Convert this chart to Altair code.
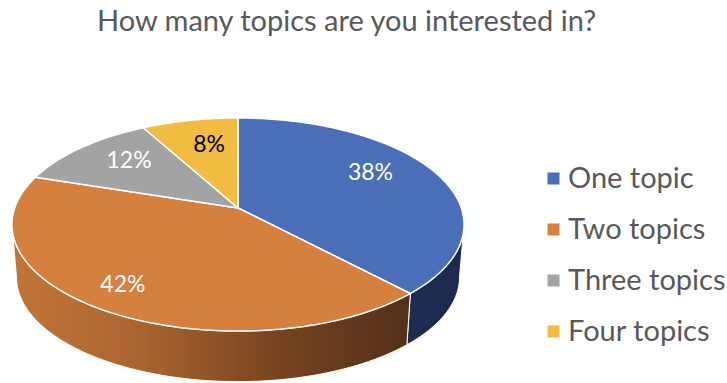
import math

import altair as alt
import pandas as pd

# Survey answers
categories = ["One topic", "Two topics", "Three topics", "Four topics"]
shares = [38, 42, 12, 8]
top_colors = ["#4A6FB8", "#D6803F", "#A3A3A3", "#F1BC3F"]
label_colors = ["white", "white", "white", "black"]
# Where each percentage sits inside its slice: fraction of radius, degrees off the mid-angle
label_radius = [0.72, 0.81, 0.715, 0.68]
label_turn = [-8.0, 2.4, 3.2, 2.3]
# Side wall shading, left to right, for the slices whose rim faces the viewer
wall_stops = {
    "One topic": ["#1E2B52", "#1D2A4E"],
    "Two topics": ["#C27538", "#A9642F", "#77431F", "#52301A"],
}

# Tilted disc: a unit circle seen in perspective, depth given in pixels
CX, CY = 238, 208
RX, RY, TILT = 223.3, 104, 0.155
WALL_DROP, WALL_SCALE = 53, 0.98
FONT = "Lato"


def project(angle, radius=1.0, scale=1.0, drop=0.0):
    u, v = radius * math.sin(angle), radius * math.cos(angle)
    w = 1 + TILT * v
    return [CX + scale * RX * u / w, CY + drop - scale * RY * v / w]


def arc(start, end, **kwargs):
    steps = max(2, int(abs(end - start) / math.radians(1)))
    return [project(start + (end - start) * i / steps, **kwargs) for i in range(steps + 1)]


def feature(name, ring):
    return {
        "type": "Feature",
        "properties": {"name": name},
        "geometry": {"type": "Polygon", "coordinates": [ring + [ring[0]]]},
    }


total = sum(shares)
edges = [0.0]
for share in shares:
    edges.append(edges[-1] + 2 * math.pi * share / total)

# Angles between which the rim faces the viewer
front_start = math.acos(-TILT)
front_end = 2 * math.pi - front_start

top_features, wall_layers, label_rows = [], [], []
for i, name in enumerate(categories):
    start, end = edges[i], edges[i + 1]
    top_features.append(feature(name, [[CX, CY]] + arc(start, end)))

    mid = (start + end) / 2 + math.radians(label_turn[i])
    lon, lat = project(mid, radius=label_radius[i])
    label_rows.append(
        {"lon": lon, "lat": lat, "label": f"{shares[i]}%", "ink": label_colors[i]}
    )

    wall_from, wall_to = max(start, front_start), min(end, front_end)
    if wall_from < wall_to:
        ring = arc(wall_from, wall_to) + arc(
            wall_to, wall_from, scale=WALL_SCALE, drop=WALL_DROP
        )
        stops = wall_stops[name]
        gradient = alt.Gradient(
            gradient="linear",
            x1=0,
            x2=1,
            y1=0,
            y2=0,
            stops=[
                alt.GradientStop(color=c, offset=k / (len(stops) - 1))
                for k, c in enumerate(stops)
            ],
        )
        wall_layers.append(
            alt.Chart(alt.InlineData(values=[feature(name, ring)]))
            .mark_geoshape(fill=gradient, stroke="white", strokeWidth=1)
        )

top = (
    alt.Chart(alt.InlineData(values=top_features))
    .mark_geoshape(stroke="white", strokeWidth=1.5)
    .encode(
        color=alt.Color(
            "properties.name:N",
            scale=alt.Scale(domain=categories, range=top_colors),
            legend=alt.Legend(
                title=None,
                orient="none",
                legendX=539,
                legendY=164,
                symbolType="square",
                symbolSize=144,
                symbolStrokeWidth=0,
                labelFont=FONT,
                labelFontSize=29,
                labelColor="#595959",
                labelLimit=200,
                labelOffset=0,
                rowPadding=21,
            ),
        )
    )
)

labels = (
    alt.Chart(pd.DataFrame(label_rows))
    .mark_text(font=FONT, fontSize=23)
    .encode(
        longitude="lon:Q",
        latitude="lat:Q",
        text="label:N",
        color=alt.Color("ink:N", scale=None),
    )
)

chart = (
    alt.layer(*wall_layers, top, labels)
    .project(type="identity", scale=1, translate=[0, 0])
    .resolve_scale(color="independent")
    .properties(
        width=727,
        height=383,
        padding=0,
        autosize=alt.AutoSizeParams(type="none"),
        background="white",
        title=alt.TitleParams(
            "How many topics are you interested in?",
            anchor="start",
            dx=97,
            dy=41,
            font=FONT,
            fontSize=29,
            fontWeight="normal",
            color="#595959",
        ),
    )
    .configure_view(stroke=None)
)

chart.save("out.html", embed_options={"renderer": "svg", "actions": False})
